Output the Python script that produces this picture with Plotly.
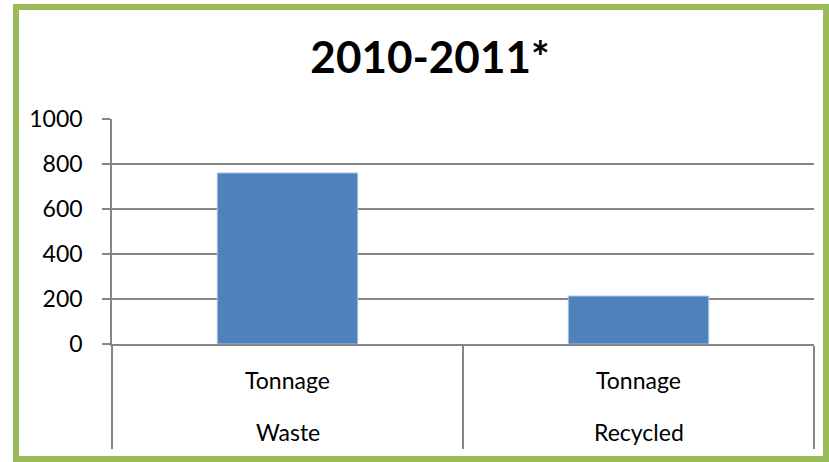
import plotly.graph_objects as go

title_text = "2010-2011*"
categories = ["Waste", "Recycled"]
inner_labels = ["Tonnage", "Tonnage"]
values = [760, 213]
y_ticks = [0, 200, 400, 600, 800, 1000]

W, H = 829, 462
ml, mr, mt, mb = 112, 15, 119, 118
font_family = "Lato, 'Open Sans', sans-serif"
grey = "#868686"

fig = go.Figure()
fig.add_trace(go.Bar(
    x=categories, y=values, width=0.4,
    marker=dict(color="#4F81BD", line=dict(color="#A7C0E0", width=1)),
    hoverinfo="x+y",
))

x_range = [-0.5, len(categories) - 0.5]
span = x_range[1] - x_range[0]
annotations = []
for i, (cat, inner) in enumerate(zip(categories, inner_labels)):
    px = (i - x_range[0]) / span
    annotations.append(dict(x=px, y=-0.16, xref="paper", yref="paper", text=inner,
                            showarrow=False, xanchor="center", yanchor="middle",
                            font=dict(size=23, color="#000000", family=font_family)))
    annotations.append(dict(x=px, y=-0.39, xref="paper", yref="paper", text=cat,
                            showarrow=False, xanchor="center", yanchor="middle",
                            font=dict(size=23, color="#000000", family=font_family)))

fig.update_layout(
    width=W, height=H,
    margin=dict(l=ml, r=mr, t=mt, b=mb, pad=0),
    paper_bgcolor="white", plot_bgcolor="white",
    showlegend=False,
    bargap=0.6,
    title=dict(text="<b>" + title_text + "</b>", x=430 / W, xref="container", xanchor="center",
               y=1 - 58 / H, yref="container", yanchor="middle",
               font=dict(size=44, color="#000000", family=font_family)),
    xaxis=dict(type="category", range=x_range, showgrid=False,
               showline=True, linecolor=grey, linewidth=1.5,
               ticks="outside", tickson="boundaries", ticklen=103, tickwidth=1.5,
               tickcolor=grey, showticklabels=False, zeroline=False, fixedrange=True),
    yaxis=dict(range=[0, 1000], tickvals=y_ticks, ticktext=[str(v) for v in y_ticks],
               showgrid=True, gridcolor=grey, gridwidth=1.5,
               showline=True, linecolor=grey, linewidth=1.5,
               ticks="outside", ticklen=8, tickwidth=1.5, tickcolor=grey,
               ticklabelstandoff=15, zeroline=False,
               tickfont=dict(size=23, color="#000000", family=font_family), fixedrange=True),
    annotations=annotations,
    shapes=[dict(type="rect", xref="paper", yref="paper",
                 x0=(16 - ml) / (W - ml - mr), x1=(826 - ml) / (W - ml - mr),
                 y0=-(459 - (H - mb)) / (H - mt - mb), y1=1 + (mt - 7) / (H - mt - mb),
                 line=dict(color="#9BBB59", width=6), layer="above")],
)

fig.write_html("out.html", config={"displayModeBar": False},
               post_script="document.body.style.margin='0';document.body.style.overflow='hidden';")
